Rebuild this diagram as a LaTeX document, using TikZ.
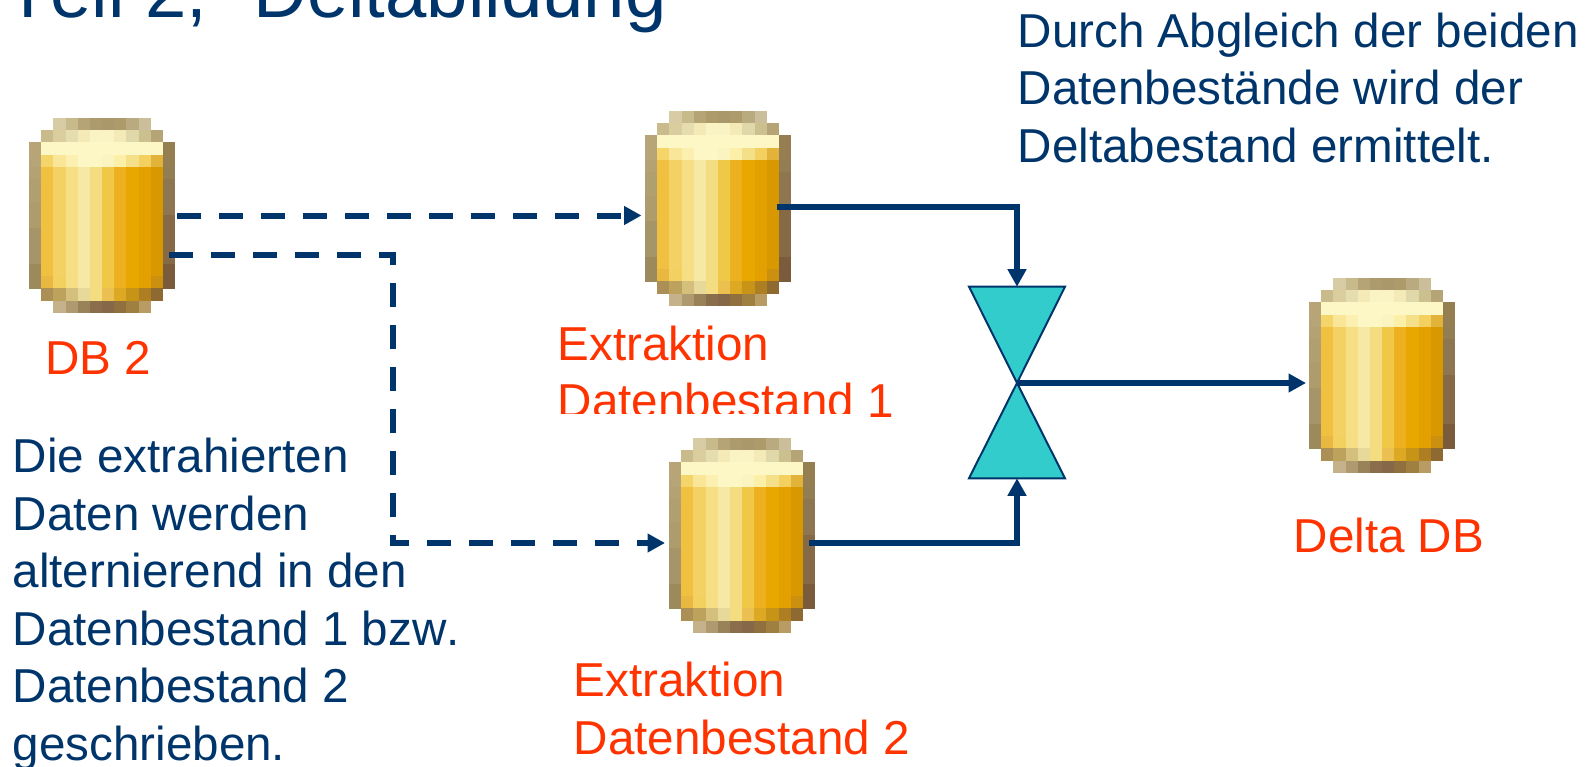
\documentclass[tikz,border=0pt]{standalone}
\usepackage{fontspec}
\setmainfont[Kerning=Off]{Liberation Sans}
\usetikzlibrary{arrows.meta,calc}
\definecolor{navy}{HTML}{00356B}
\definecolor{redor}{HTML}{FF3300}
\definecolor{teal2}{HTML}{33CCCC}
\newcommand\pxrow[3]{\foreach \hx [count=\ci from #2] in {#3}{%
  \definecolor{pxc}{HTML}{\hx}%
  \fill[pxc] ({\ci*12.17},{#1*12.17}) rectangle ++(12.4,12.4);}}
\newcommand\pxbody[4]{\pxrow{#1}{0}{#2,F0C040,F4D065,F6DE85,F7E8A5,F4DC80,F0C848,EDB020,E8A800,E4A000,#3,#4}}
\tikzset{
  dbcyl/.pic={
    \pxrow{0}{2}{D8CCA4,C8BB8B,B5A476,AE9B6C,AB986A,AE9B6C,BAAA80,CBBF9B}
    \pxrow{1}{1}{C9BB8B,DACE9F,E6DDAE,F3EAB8,FAF3C3,FAF3C3,F3EAB8,E0D8A8,CDC08F,B5A476}
    \pxrow{2}{0}{B8A577,FCF7C5,FCF7C5,FCF7C5,FCF7C5,FCF7C5,FCF7C5,FCF7C5,FCF7C5,FCF7C5,FCF7C5,957E52}
    \pxrow{3}{0}{B8A577,F6D568,F9E698,FBF0B0,FDF7C5,FDF7C5,FBF3C0,FCEFA8,F5E08A,F4D060,E3B238,957E52}
    \pxbody{4}{B4A274}{D89800}{937D52}
    \pxbody{5}{B0A070}{D89800}{8E7650}
    \pxbody{6}{B0A070}{D89800}{8E7650}
    \pxbody{7}{AE9C6C}{D89800}{8E7650}
    \pxbody{8}{AE9C6C}{D89800}{866A45}
    \pxbody{9}{A69568}{D89800}{866A45}
    \pxbody{10}{A69568}{D89800}{866A45}
    \pxbody{11}{A69568}{D89800}{866A45}
    \pxbody{12}{9C8A5C}{D89800}{7A5C3C}
    \pxrow{13}{0}{9C8A5C,E8B840,F4D060,F6DE85,F7E8A5,F4DC80,F0C848,EDB020,E8A800,E4A000,CC9010,7A5C3C}
    \pxrow{14}{1}{AC8F55,BDA25E,D4BF7C,E6D99A,F4DC80,ECC050,DDA822,C89418,AD7F22,8F6A30}
    \pxrow{15}{2}{C6B28A,AE9A6E,9A8258,8A6E4C,866848,90703F,A08040,B89C64}
  },
  dbnode/.style={minimum width=146pt,minimum height=195pt,inner sep=0pt,outer sep=0pt},
  bodytext/.style={font=\fontsize{47.6}{57.5}\selectfont,text=navy,align=left,inner sep=0pt,anchor=base west},
  labeltext/.style={font=\fontsize{47.6}{57.5}\selectfont,text=redor,align=left,inner sep=0pt,anchor=base west},
  titletext/.style={font=\fontsize{74.3}{80}\selectfont,text=navy,inner sep=0pt,anchor=base west},
  conn/.style={draw=navy,line width=6pt,-{Triangle[length=17.5pt,width=18pt]}},
  dashconn/.style={conn,dash pattern=on 24pt off 18pt},
  hourglass/.style={draw=navy,fill=teal2,line width=2pt,line join=miter},
}
\begin{document}
\begin{tikzpicture}[x=1pt,y=-1pt]
\useasboundingbox (0,0) rectangle (1596,766);
\clip (0,0) rectangle (1596,766);
% labels
\node[titletext] (title) at (5,17.5) {Teil 2,\hspace{46pt}Deltabildung};
\node[bodytext] (note1) at (1017.5,162) {Durch Abgleich der beiden\\Datenbestände wird der\\Deltabestand ermittelt.};
\node[bodytext] (note2) at (12.5,760) {Die extrahierten\\Daten werden\\alternierend in den\\Datenbestand 1 bzw.\\Datenbestand 2\\geschrieben.};
\node[labeltext] (lab0) at (45,374.6) {DB 2};
\node[labeltext] (lab1) at (557.5,417.5) {Extraktion\\Datenbestand 1};
\node[labeltext] (lab2) at (573.5,754) {Extraktion\\Datenbestand 2};
\node[labeltext] (lab3) at (1293.5,552) {Delta DB};
% the white frame of the lower picture cuts the label above it
\fill[white] (540,413.5) rectangle (851.7,438);
% databases
\node[dbnode] (db2) at (102,215.5) {};
\node[dbnode] (ex1) at (718,208.5) {};
\node[dbnode] (ex2) at (742,535.5) {};
\node[dbnode] (delta) at (1382,375.5) {};
\pic at (db2.north west) {dbcyl};
\pic at (ex1.north west) {dbcyl};
\pic at (ex2.north west) {dbcyl};
\pic at (delta.north west) {dbcyl};
% comparator
\coordinate (hg) at (1017,383);
\coordinate (hgtop) at (1017,286.7);
\coordinate (hgbot) at (1017,478.3);
\draw[hourglass] (hg) -- ($(hgtop)+(-48,0)$) -- ($(hgtop)+(48,0)$) -- cycle;
\draw[hourglass] (hg) -- ($(hgbot)+(-48,0)$) -- ($(hgbot)+(48,0)$) -- cycle;
% connectors
\coordinate (bend0) at (393,543);
\draw[dashconn] ($(db2.east)+(2,0)$) -- ($(ex1.west |- db2.east)+(-3.5,0)$);
\draw[dashconn] ($(db2.east)+(-6,39.5)$) -| (bend0) -- ($(ex2.west |- bend0)+(-4,0)$);
\draw[conn] ($(ex1.east)+(-14,-1.5)$) -| (hgtop);
\draw[conn] ($(ex2.east)+(-6,7.5)$) -| (hgbot);
\draw[conn] (hg) -- ($(delta.west |- hg)+(-3,0)$);
\end{tikzpicture}
\end{document}
